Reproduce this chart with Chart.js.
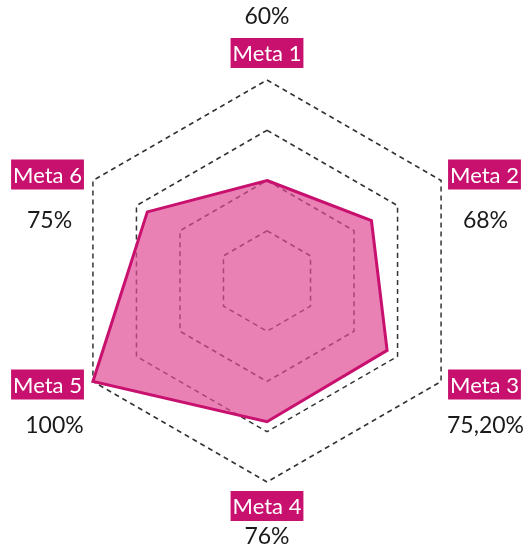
<!DOCTYPE html>
<html>
<head>
<meta charset="utf-8">
<script src="https://cdn.jsdelivr.net/npm/chart.js@4"></script>
<style>
  body { margin: 0; background: #fff; }
</style>
</head>
<body>
<canvas id="myChart" width="527" height="550"></canvas>
<script>
var metas = ["Meta 1", "Meta 2", "Meta 3", "Meta 4", "Meta 5", "Meta 6"];
var valores = [60, 68, 75.2, 76, 100, 75];
var escalaMin = 20;
var escalaMax = 100;

function formatPct(v) {
    if (v % 1 === 0) return v + "%";
    return v.toFixed(2).replace(".", ",") + "%";
}

// labels drawn by hand so each one gets the magenta box plus the value
var labelPlugin = {
    id: "metaLabels",
    afterDraw: function (chart) {
        var ctx = chart.ctx;
        var scale = chart.scales.r;
        var R = scale.drawingArea;
        // offsets per label: [box dx, box dy, align, value dx (from box centre), value dy]
        var off = [
            [0, -27, "center", 0, -63],
            [7, -6, "left", 1, 40],
            [7, 3, "left", 1, 44],
            [0, 24, "center", 0, 55],
            [-9, 3, "right", 7, 44],
            [-9, -6, "right", 2, 40]
        ];
        ctx.save();
        ctx.textBaseline = "middle";
        ctx.textAlign = "center";
        for (var i = 0; i < metas.length; i++) {
            var p = scale.getPointPosition(i, R);
            var o = off[i];
            ctx.font = "22px Lato";
            var w = ctx.measureText(metas[i]).width + 4;
            var h = 30;
            var bx;
            if (o[2] == "center") bx = p.x + o[0] - w / 2;
            else if (o[2] == "left") bx = p.x + o[0];
            else bx = p.x + o[0] - w;
            var by = p.y + o[1] - h / 2;
            ctx.fillStyle = "#c8106e";
            ctx.fillRect(bx, by, w, h);
            ctx.fillStyle = "#ffffff";
            ctx.fillText(metas[i], bx + w / 2, by + h / 2 + 1);

            ctx.font = "23px Lato";
            ctx.fillStyle = "#1a1a1a";
            ctx.fillText(formatPct(valores[i]), bx + w / 2 + o[3], p.y + o[4]);
        }
        ctx.restore();
    }
};

var ctx = document.getElementById("myChart").getContext("2d");
var myChart = new Chart(ctx, {
    type: "radar",
    data: {
        labels: metas,
        datasets: [
            {
                data: valores,
                borderColor: "#c8106e",
                backgroundColor: "rgba(225, 75, 150, 0.7)",
                borderWidth: 3,
                pointRadius: 0,
                fill: true
            }
        ]
    },
    options: {
        responsive: false,
        animation: false,
        layout: {
            padding: { left: 66, right: 59, top: 80, bottom: 68 }
        },
        plugins: {
            legend: { display: false },
            tooltip: { enabled: false }
        },
        scales: {
            r: {
                min: escalaMin,
                max: escalaMax,
                ticks: { stepSize: 20, display: false },
                angleLines: { display: false },
                pointLabels: { display: false },
                grid: { color: "#333", lineWidth: 1.5, borderDash: [5, 4] },
                border: { dash: [5, 4] }
            }
        }
    },
    plugins: [labelPlugin]
});
</script>
</body>
</html>
